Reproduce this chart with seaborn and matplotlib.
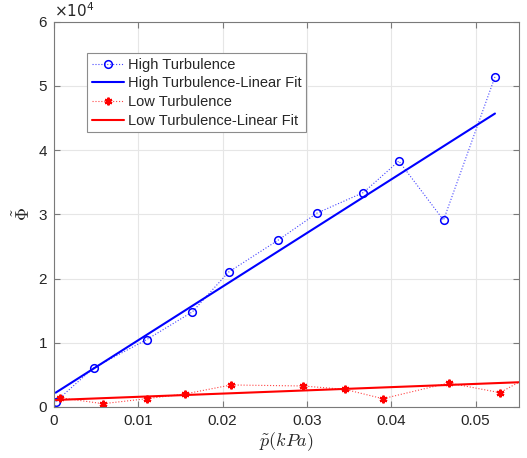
import numpy as np
import pandas as pd
import matplotlib
matplotlib.use("Agg")
import matplotlib.pyplot as plt
import seaborn as sns

# Data
high_x = [0.0002, 0.0047, 0.0110, 0.0164, 0.0207, 0.0266, 0.0312, 0.0367, 0.0409, 0.0462, 0.0523]
high_y = [830, 6100, 10500, 14800, 21000, 26000, 30200, 33400, 38300, 29100, 51400]
high_fit_x = [0.0002, 0.0523]
high_fit_y = [2230, 45700]

low_x = [0.0007, 0.0058, 0.0110, 0.0155, 0.0210, 0.0295, 0.0345, 0.0390, 0.0468, 0.0529, 0.0575]
low_y = [1450, 510, 1290, 2020, 3430, 3270, 2750, 1290, 3740, 2230, 5600]
low_fit_x = [0.0002, 0.0575]
low_fit_y = [1090, 3970]

x_ticks = [0, 0.01, 0.02, 0.03, 0.04, 0.05]
x_tick_labels = ["0", "0.01", "0.02", "0.03", "0.04", "0.05"]
y_ticks = [0, 10000, 20000, 30000, 40000, 50000, 60000]
y_tick_labels = ["0", "1", "2", "3", "4", "5", "6"]

labels = ["High Turbulence", "High Turbulence-Linear Fit",
          "Low Turbulence", "Low Turbulence-Linear Fit"]

sns.set_theme(style="whitegrid")
plt.rcParams['font.family'] = ['Liberation Sans', 'DejaVu Sans']
plt.rcParams['mathtext.fontset'] = 'cm'

fig = plt.figure(figsize=(5.27, 4.58), dpi=100)
ax = fig.add_axes([0.1025, 0.1114, 0.8815, 0.8412])

asterisk = (6, 2, 0)

sns.lineplot(x=high_x, y=high_y, ax=ax, color="#4444ff", linestyle=":", linewidth=0.8,
             marker="o", markersize=5.5, markerfacecolor="none", markeredgecolor="#0000ff",
             markeredgewidth=1.1, label=labels[0], sort=False)
sns.lineplot(x=high_fit_x, y=high_fit_y, ax=ax, color="#0000ff", linewidth=1.5, label=labels[1])
sns.lineplot(x=low_x, y=low_y, ax=ax, color="#ff4444", linestyle=":", linewidth=0.8,
             marker=asterisk, markersize=5.5, markerfacecolor="#ff0000", markeredgecolor="#ff0000",
             markeredgewidth=1.6, label=labels[2], sort=False)
sns.lineplot(x=low_fit_x, y=low_fit_y, ax=ax, color="#ff0000", linewidth=1.5, label=labels[3])

ax.set_xlim(0, 0.0551)
ax.set_ylim(0, 60000)
ax.set_xticks(x_ticks)
ax.set_xticklabels(x_tick_labels)
ax.set_yticks(y_ticks)
ax.set_yticklabels(y_tick_labels)

ax.grid(True, color="#e6e6e6", linewidth=0.8)
for s in ax.spines.values():
    s.set_visible(True)
    s.set_color("#7a7a7a")
    s.set_linewidth(0.8)
ax.tick_params(direction="in", length=4, width=0.8, color="#7a7a7a",
               labelsize=11, labelcolor="#262626", top=True, right=True,
               bottom=True, left=True, pad=5)
ax.tick_params(axis='x', labeltop=False)
ax.tick_params(axis='y', labelright=False)

ax.set_xlabel(r"$\tilde{p}(kPa)$", fontsize=13, color="#262626", labelpad=2)
ax.set_ylabel(r"$\tilde{\Phi}$", fontsize=13, color="#262626", labelpad=4)
ax.text(0.0, 1.005, r"$\times10^{4}$", transform=ax.transAxes, fontsize=11,
        color="#262626", ha="left", va="bottom", family="DejaVu Sans",
        math_fontfamily="dejavusans")

leg = ax.legend(loc="upper left", bbox_to_anchor=(0.072, 0.918), fontsize=10.5,
                frameon=True, fancybox=False, framealpha=1, edgecolor="#8c8c8c",
                borderpad=0.3, labelspacing=0.32, handlelength=2.2, handletextpad=0.3,
                borderaxespad=0)
leg.get_frame().set_linewidth(0.8)
for t in leg.get_texts():
    t.set_color("#262626")

fig.savefig("out.png", dpi=100)
